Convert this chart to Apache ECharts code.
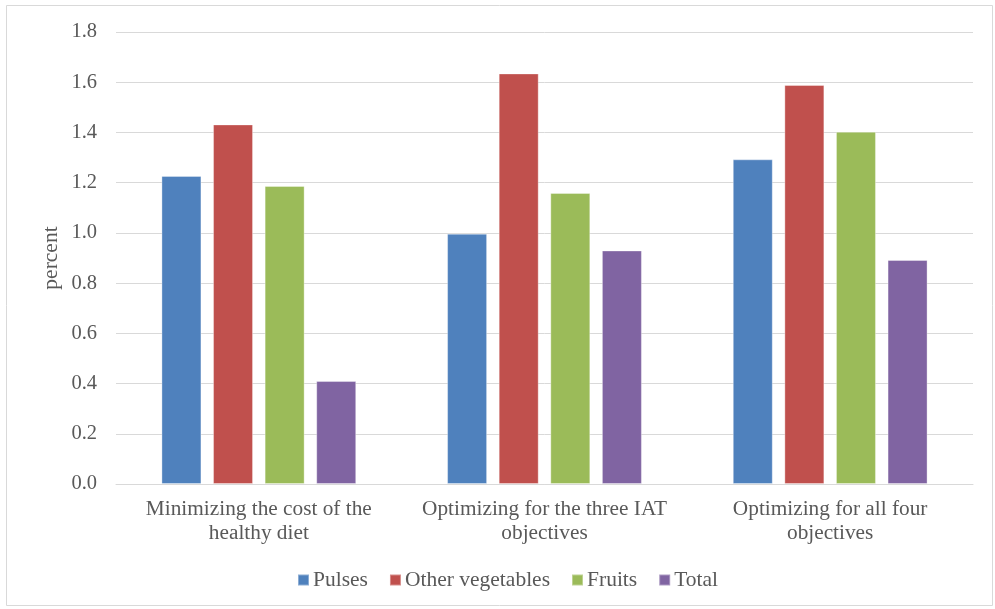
<!DOCTYPE html>
<html>
<head>
<meta charset="utf-8">
<script src="https://cdn.jsdelivr.net/npm/echarts@6/dist/echarts.min.js"></script>
<style>
  html, body { margin: 0; padding: 0; background: #fff; }
  #chart { width: 995px; height: 609px; }
</style>
</head>
<body>
<div id="chart"></div>
<script>
// Scenario categories (line breaks follow the printed labels)
const categories = [
  'Minimizing the cost of the\nhealthy diet',
  'Optimizing for the three IAT\nobjectives',
  'Optimizing for all four\nobjectives'
];
const pulses = [1.227, 0.997, 1.293];
const otherVegetables = [1.432, 1.635, 1.589];
const fruits = [1.187, 1.159, 1.403];
const total = [0.41, 0.93, 0.892];
const yTicks = { min: 0, max: 1.8, step: 0.2 };

const seriesDefs = [
  { name: 'Pulses', data: pulses, color: '#4f81bd' },
  { name: 'Other vegetables', data: otherVegetables, color: '#c0504d' },
  { name: 'Fruits', data: fruits, color: '#9bbb59' },
  { name: 'Total', data: total, color: '#8064a2' }
];

const font = 'Liberation Serif, Times New Roman, serif';
const textColor = '#595959';

const chart = echarts.init(document.getElementById('chart'), null, { renderer: 'canvas' });
chart.setOption({
  animation: false,
  backgroundColor: '#fff',
  graphic: [{
    type: 'rect',
    shape: { x: 6.5, y: 5.5, width: 986, height: 600 },
    style: { fill: 'none', stroke: '#d9d9d9', lineWidth: 1 },
    silent: true
  }],
  grid: { left: 116, right: 22, top: 32, bottom: 125, containLabel: false },
  legend: {
    left: 297,
    top: 569,
    padding: 0,
    itemWidth: 11,
    itemHeight: 11,
    itemGap: 21,
    icon: 'rect',
    textStyle: { fontFamily: font, fontSize: 21.5, color: textColor, padding: [0, 0, 0, -1] },
    data: seriesDefs.map(s => s.name)
  },
  xAxis: {
    type: 'category',
    data: categories,
    axisLine: { show: true, lineStyle: { color: '#d9d9d9', width: 1 } },
    axisTick: { show: false },
    axisLabel: {
      fontFamily: font, fontSize: 21.3, color: textColor,
      lineHeight: 24, margin: 13, interval: 0
    }
  },
  yAxis: {
    type: 'value',
    min: yTicks.min,
    max: yTicks.max,
    interval: yTicks.step,
    name: 'percent',
    nameLocation: 'middle',
    nameGap: 54,
    nameRotate: 90,
    nameMoveOverlap: false,
    nameTextStyle: { fontFamily: font, fontSize: 21.5, color: textColor },
    axisLine: { show: false },
    axisTick: { show: false },
    splitLine: { lineStyle: { color: '#d9d9d9', width: 1 } },
    axisLabel: {
      fontFamily: font, fontSize: 20.5, color: textColor, margin: 19,
      formatter: v => v.toFixed(1)
    }
  },
  series: seriesDefs.map(s => ({
    name: s.name,
    type: 'bar',
    data: s.data,
    barWidth: 40,
    barGap: '29%',
    itemStyle: { color: s.color, borderColor: 'rgba(255,255,255,0.35)', borderWidth: 1 }
  }))
});
</script>
</body>
</html>
